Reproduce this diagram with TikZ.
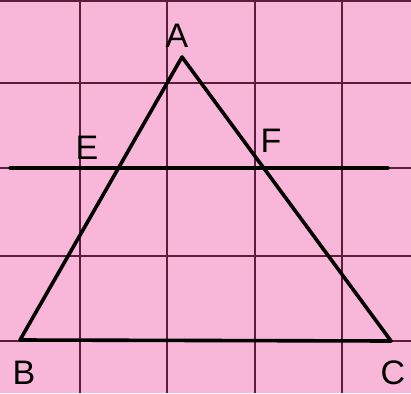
\documentclass[tikz,border=0pt]{standalone}
\usepackage{fontspec}
\setmainfont{Liberation Sans}
\definecolor{paper}{HTML}{F8B6D8}
\definecolor{gridc}{HTML}{5A1E3A}
\begin{document}
\begin{tikzpicture}[x=1pt,y=-1pt,
  gridline/.style={draw=gridc,line width=2pt},
  edge/.style={draw=black,line width=3.6pt,line cap=round,line join=round},
  lab/.style={font=\fontsize{34}{34}\selectfont, text=black, inner sep=0pt}]
\fill[paper] (0,0) rectangle (411,393);
\useasboundingbox (0,0) rectangle (411,393);
% grid
\foreach \x in {80,167,255,342} \draw[gridline] (\x,0) -- (\x,393);
\foreach \y in {1,83,256,341} \draw[gridline] (0,\y) -- (411,\y);
\draw[gridline] (0,168) -- (411,168);
% points
\coordinate (A) at (182,57);
\coordinate (B) at (20,340);
\coordinate (C) at (391,341);
\coordinate (L) at (10,168);
\coordinate (R) at (388,168);
% triangle and EF line
\draw[edge] (A) -- (B) -- (C) -- cycle;
\draw[edge,line width=3.2pt] (L) -- (R);
% labels
\node[lab] (la) at (177,36) {A};
\node[lab] (le) at (87,148) {E};
\node[lab] (lf) at (271,141) {F};
\node[lab] (lb) at (24,373) {B};
\node[lab] (lc) at (393,373) {C};
\end{tikzpicture}
\end{document}
